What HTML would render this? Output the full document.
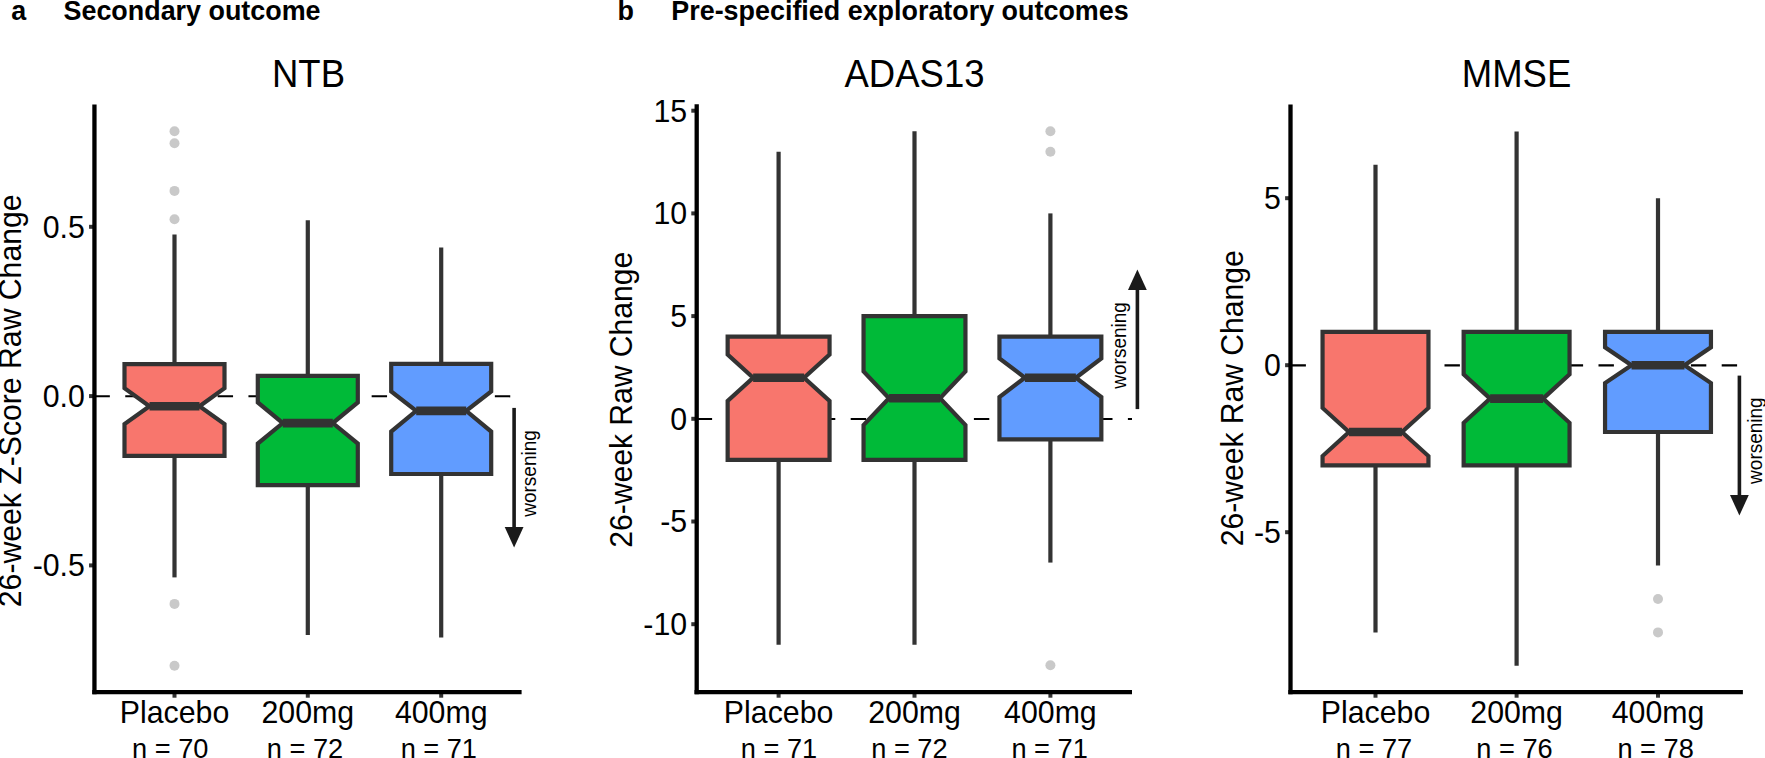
<!DOCTYPE html>
<html lang="en"><head><meta charset="utf-8"><title>Cognitive outcomes boxplots</title>
<style>html,body{margin:0;padding:0;background:#fff}body{width:1765px;height:758px;overflow:hidden}svg{display:block}</style></head>
<body>
<svg width="1765" height="758" viewBox="0 0 1765 758" font-family="'Liberation Sans', sans-serif" fill="#000">
<rect width="1765" height="758" fill="#fff"/>
<line x1="94.45" y1="396.3" x2="521.6" y2="396.3" stroke="#000" stroke-width="2.1" stroke-dasharray="15.4 15.4"/>
<line x1="174.5" y1="234.6" x2="174.5" y2="364.2" stroke="#333333" stroke-width="4.2"/>
<line x1="174.5" y1="455.8" x2="174.5" y2="577.4" stroke="#333333" stroke-width="4.2"/>
<path d="M124.5,455.8 L124.5,424 L149.5,406.2 L124.5,388.2 L124.5,364.2 L224.5,364.2 L224.5,388.2 L199.5,406.2 L224.5,424 L224.5,455.8Z" fill="#F8766D" stroke="#333333" stroke-width="4.2" stroke-linejoin="miter"/>
<line x1="149.5" y1="406.2" x2="199.5" y2="406.2" stroke="#333333" stroke-width="8.6"/>
<circle cx="174.5" cy="131.2" r="5" fill="#c9c9c9"/>
<circle cx="174.5" cy="143.2" r="5" fill="#c9c9c9"/>
<circle cx="174.5" cy="190.9" r="5" fill="#c9c9c9"/>
<circle cx="174.5" cy="219.2" r="5" fill="#c9c9c9"/>
<circle cx="174.5" cy="603.9" r="5" fill="#c9c9c9"/>
<circle cx="174.5" cy="665.7" r="5" fill="#c9c9c9"/>
<line x1="307.8" y1="220.3" x2="307.8" y2="375.8" stroke="#333333" stroke-width="4.2"/>
<line x1="307.8" y1="485.1" x2="307.8" y2="634.9" stroke="#333333" stroke-width="4.2"/>
<path d="M257.8,485.1 L257.8,443.6 L282.8,423.1 L257.8,402.4 L257.8,375.8 L357.8,375.8 L357.8,402.4 L332.8,423.1 L357.8,443.6 L357.8,485.1Z" fill="#00BA38" stroke="#333333" stroke-width="4.2" stroke-linejoin="miter"/>
<line x1="282.8" y1="423.1" x2="332.8" y2="423.1" stroke="#333333" stroke-width="8.6"/>
<line x1="441.2" y1="247.5" x2="441.2" y2="363.9" stroke="#333333" stroke-width="4.2"/>
<line x1="441.2" y1="474" x2="441.2" y2="637.6" stroke="#333333" stroke-width="4.2"/>
<path d="M391.2,474 L391.2,431.6 L416.2,410.9 L391.2,391.4 L391.2,363.9 L491.2,363.9 L491.2,391.4 L466.2,410.9 L491.2,431.6 L491.2,474Z" fill="#619CFF" stroke="#333333" stroke-width="4.2" stroke-linejoin="miter"/>
<line x1="416.2" y1="410.9" x2="466.2" y2="410.9" stroke="#333333" stroke-width="8.6"/>
<line x1="89.05" y1="226.8" x2="94.45" y2="226.8" stroke="#333333" stroke-width="4"/>
<text transform="translate(84.85 237.7) scale(1 1.04)" text-anchor="end" font-size="30.3">0.5</text>
<line x1="89.05" y1="396.1" x2="94.45" y2="396.1" stroke="#333333" stroke-width="4"/>
<text transform="translate(84.85 407) scale(1 1.04)" text-anchor="end" font-size="30.3">0.0</text>
<line x1="89.05" y1="565.4" x2="94.45" y2="565.4" stroke="#333333" stroke-width="4"/>
<text transform="translate(84.85 576.3) scale(1 1.04)" text-anchor="end" font-size="30.3">-0.5</text>
<line x1="174.5" y1="692.1" x2="174.5" y2="697.7" stroke="#333333" stroke-width="4"/>
<line x1="307.8" y1="692.1" x2="307.8" y2="697.7" stroke="#333333" stroke-width="4"/>
<line x1="441.2" y1="692.1" x2="441.2" y2="697.7" stroke="#333333" stroke-width="4"/>
<line x1="94.45" y1="104.4" x2="94.45" y2="694.25" stroke="#000" stroke-width="4.3"/>
<line x1="92.3" y1="692.1" x2="521.6" y2="692.1" stroke="#000" stroke-width="4.3"/>
<text transform="translate(174.5 722.7) scale(1 1.04)" text-anchor="middle" font-size="30.3">Placebo</text>
<text transform="translate(170.2 757.9) scale(1 1.04)" text-anchor="middle" font-size="27.2">n = 70</text>
<text transform="translate(307.8 722.7) scale(1 1.04)" text-anchor="middle" font-size="30.3">200mg</text>
<text transform="translate(305 757.9) scale(1 1.04)" text-anchor="middle" font-size="27.2">n = 72</text>
<text transform="translate(441.2 722.7) scale(1 1.04)" text-anchor="middle" font-size="30.3">400mg</text>
<text transform="translate(438.8 757.9) scale(1 1.04)" text-anchor="middle" font-size="27.2">n = 71</text>
<text transform="translate(308.5 86.9) scale(1 1.04)" text-anchor="middle" font-size="36.5">NTB</text>
<text transform="translate(20.9 400.8) rotate(-90) scale(1 1.04)" text-anchor="middle" font-size="30.2">26-week Z-Score Raw Change</text>
<line x1="514.1" y1="407.9" x2="514.1" y2="529" stroke="#1a1a1a" stroke-width="3.6"/>
<path d="M504.7,527 L523.5,527 L514.1,547.6Z" fill="#1a1a1a"/>
<text transform="translate(535.6 473.5) rotate(-90) scale(1 1.04)" text-anchor="middle" font-size="19">worsening</text>
<line x1="696.7" y1="419" x2="1132" y2="419" stroke="#000" stroke-width="2.1" stroke-dasharray="15.4 15.4"/>
<line x1="778.6" y1="151.78" x2="778.6" y2="336.64" stroke="#333333" stroke-width="4.2"/>
<line x1="778.6" y1="459.88" x2="778.6" y2="644.74" stroke="#333333" stroke-width="4.2"/>
<path d="M727.65,459.88 L727.65,400.83 L753.12,377.72 L727.65,354.61 L727.65,336.64 L829.55,336.64 L829.55,354.61 L804.08,377.72 L829.55,400.83 L829.55,459.88Z" fill="#F8766D" stroke="#333333" stroke-width="4.2" stroke-linejoin="miter"/>
<line x1="753.12" y1="377.72" x2="804.08" y2="377.72" stroke="#333333" stroke-width="8.6"/>
<line x1="914.5" y1="131.24" x2="914.5" y2="316.1" stroke="#333333" stroke-width="4.2"/>
<line x1="914.5" y1="459.88" x2="914.5" y2="644.74" stroke="#333333" stroke-width="4.2"/>
<path d="M863.55,459.88 L863.55,425.03 L889.02,398.26 L863.55,371.49 L863.55,316.1 L965.45,316.1 L965.45,371.49 L939.98,398.26 L965.45,425.03 L965.45,459.88Z" fill="#00BA38" stroke="#333333" stroke-width="4.2" stroke-linejoin="miter"/>
<line x1="889.02" y1="398.26" x2="939.98" y2="398.26" stroke="#333333" stroke-width="8.6"/>
<line x1="1050.4" y1="213.4" x2="1050.4" y2="336.64" stroke="#333333" stroke-width="4.2"/>
<line x1="1050.4" y1="439.34" x2="1050.4" y2="562.58" stroke="#333333" stroke-width="4.2"/>
<path d="M999.45,439.34 L999.45,396.98 L1024.93,377.72 L999.45,358.46 L999.45,336.64 L1101.35,336.64 L1101.35,358.46 L1075.88,377.72 L1101.35,396.98 L1101.35,439.34Z" fill="#619CFF" stroke="#333333" stroke-width="4.2" stroke-linejoin="miter"/>
<line x1="1024.93" y1="377.72" x2="1075.88" y2="377.72" stroke="#333333" stroke-width="8.6"/>
<circle cx="1050.4" cy="131.24" r="5" fill="#c9c9c9"/>
<circle cx="1050.4" cy="151.78" r="5" fill="#c9c9c9"/>
<circle cx="1050.4" cy="665.28" r="5" fill="#c9c9c9"/>
<line x1="691.3" y1="110.7" x2="696.7" y2="110.7" stroke="#333333" stroke-width="4"/>
<text transform="translate(687.1 121.6) scale(1 1.04)" text-anchor="end" font-size="30.3">15</text>
<line x1="691.3" y1="213.4" x2="696.7" y2="213.4" stroke="#333333" stroke-width="4"/>
<text transform="translate(687.1 224.3) scale(1 1.04)" text-anchor="end" font-size="30.3">10</text>
<line x1="691.3" y1="316.1" x2="696.7" y2="316.1" stroke="#333333" stroke-width="4"/>
<text transform="translate(687.1 327) scale(1 1.04)" text-anchor="end" font-size="30.3">5</text>
<line x1="691.3" y1="418.8" x2="696.7" y2="418.8" stroke="#333333" stroke-width="4"/>
<text transform="translate(687.1 429.7) scale(1 1.04)" text-anchor="end" font-size="30.3">0</text>
<line x1="691.3" y1="521.5" x2="696.7" y2="521.5" stroke="#333333" stroke-width="4"/>
<text transform="translate(687.1 532.4) scale(1 1.04)" text-anchor="end" font-size="30.3">-5</text>
<line x1="691.3" y1="624.2" x2="696.7" y2="624.2" stroke="#333333" stroke-width="4"/>
<text transform="translate(687.1 635.1) scale(1 1.04)" text-anchor="end" font-size="30.3">-10</text>
<line x1="778.6" y1="692.1" x2="778.6" y2="697.7" stroke="#333333" stroke-width="4"/>
<line x1="914.5" y1="692.1" x2="914.5" y2="697.7" stroke="#333333" stroke-width="4"/>
<line x1="1050.4" y1="692.1" x2="1050.4" y2="697.7" stroke="#333333" stroke-width="4"/>
<line x1="696.7" y1="104.3" x2="696.7" y2="694.25" stroke="#000" stroke-width="4.3"/>
<line x1="694.55" y1="692.1" x2="1132" y2="692.1" stroke="#000" stroke-width="4.3"/>
<text transform="translate(778.6 722.7) scale(1 1.04)" text-anchor="middle" font-size="30.3">Placebo</text>
<text transform="translate(779 757.9) scale(1 1.04)" text-anchor="middle" font-size="27.2">n = 71</text>
<text transform="translate(914.5 722.7) scale(1 1.04)" text-anchor="middle" font-size="30.3">200mg</text>
<text transform="translate(909.4 757.9) scale(1 1.04)" text-anchor="middle" font-size="27.2">n = 72</text>
<text transform="translate(1050.4 722.7) scale(1 1.04)" text-anchor="middle" font-size="30.3">400mg</text>
<text transform="translate(1049.6 757.9) scale(1 1.04)" text-anchor="middle" font-size="27.2">n = 71</text>
<text transform="translate(914.5 86.9) scale(1 1.04)" text-anchor="middle" font-size="36.5">ADAS13</text>
<text transform="translate(632.3 399.8) rotate(-90) scale(1 1.04)" text-anchor="middle" font-size="30.1">26-week Raw Change</text>
<line x1="1137.4" y1="409.1" x2="1137.4" y2="288.1" stroke="#1a1a1a" stroke-width="3.6"/>
<path d="M1128,290.1 L1146.8,290.1 L1137.4,269.5Z" fill="#1a1a1a"/>
<text transform="translate(1126.2 345.4) rotate(-90) scale(1 1.04)" text-anchor="middle" font-size="19">worsening</text>
<line x1="1290.5" y1="365.4" x2="1742.9" y2="365.4" stroke="#000" stroke-width="2.1" stroke-dasharray="15.4 15.4"/>
<line x1="1375.5" y1="164.8" x2="1375.5" y2="331.8" stroke="#333333" stroke-width="4.2"/>
<line x1="1375.5" y1="465.4" x2="1375.5" y2="632.4" stroke="#333333" stroke-width="4.2"/>
<path d="M1322.55,465.4 L1322.55,456.06 L1349.03,432 L1322.55,407.94 L1322.55,331.8 L1428.45,331.8 L1428.45,407.94 L1401.97,432 L1428.45,456.06 L1428.45,465.4Z" fill="#F8766D" stroke="#333333" stroke-width="4.2" stroke-linejoin="miter"/>
<line x1="1349.03" y1="432" x2="1401.97" y2="432" stroke="#333333" stroke-width="8.6"/>
<line x1="1516.6" y1="131.4" x2="1516.6" y2="331.8" stroke="#333333" stroke-width="4.2"/>
<line x1="1516.6" y1="465.4" x2="1516.6" y2="665.8" stroke="#333333" stroke-width="4.2"/>
<path d="M1463.65,465.4 L1463.65,422.81 L1490.12,398.6 L1463.65,374.39 L1463.65,331.8 L1569.55,331.8 L1569.55,374.39 L1543.07,398.6 L1569.55,422.81 L1569.55,465.4Z" fill="#00BA38" stroke="#333333" stroke-width="4.2" stroke-linejoin="miter"/>
<line x1="1490.12" y1="398.6" x2="1543.07" y2="398.6" stroke="#333333" stroke-width="8.6"/>
<line x1="1658" y1="198.2" x2="1658" y2="331.8" stroke="#333333" stroke-width="4.2"/>
<line x1="1658" y1="432" x2="1658" y2="565.6" stroke="#333333" stroke-width="4.2"/>
<path d="M1605.05,432 L1605.05,383.13 L1631.53,365.2 L1605.05,347.27 L1605.05,331.8 L1710.95,331.8 L1710.95,347.27 L1684.47,365.2 L1710.95,383.13 L1710.95,432Z" fill="#619CFF" stroke="#333333" stroke-width="4.2" stroke-linejoin="miter"/>
<line x1="1631.53" y1="365.2" x2="1684.47" y2="365.2" stroke="#333333" stroke-width="8.6"/>
<circle cx="1658" cy="599" r="5" fill="#c9c9c9"/>
<circle cx="1658" cy="632.4" r="5" fill="#c9c9c9"/>
<line x1="1285.1" y1="198.2" x2="1290.5" y2="198.2" stroke="#333333" stroke-width="4"/>
<text transform="translate(1280.9 209.1) scale(1 1.04)" text-anchor="end" font-size="30.3">5</text>
<line x1="1285.1" y1="365.2" x2="1290.5" y2="365.2" stroke="#333333" stroke-width="4"/>
<text transform="translate(1280.9 376.1) scale(1 1.04)" text-anchor="end" font-size="30.3">0</text>
<line x1="1285.1" y1="532.2" x2="1290.5" y2="532.2" stroke="#333333" stroke-width="4"/>
<text transform="translate(1280.9 543.1) scale(1 1.04)" text-anchor="end" font-size="30.3">-5</text>
<line x1="1375.5" y1="692.1" x2="1375.5" y2="697.7" stroke="#333333" stroke-width="4"/>
<line x1="1516.6" y1="692.1" x2="1516.6" y2="697.7" stroke="#333333" stroke-width="4"/>
<line x1="1658" y1="692.1" x2="1658" y2="697.7" stroke="#333333" stroke-width="4"/>
<line x1="1290.5" y1="104.5" x2="1290.5" y2="694.25" stroke="#000" stroke-width="4.3"/>
<line x1="1288.35" y1="692.1" x2="1742.9" y2="692.1" stroke="#000" stroke-width="4.3"/>
<text transform="translate(1375.5 722.7) scale(1 1.04)" text-anchor="middle" font-size="30.3">Placebo</text>
<text transform="translate(1374 757.9) scale(1 1.04)" text-anchor="middle" font-size="27.2">n = 77</text>
<text transform="translate(1516.6 722.7) scale(1 1.04)" text-anchor="middle" font-size="30.3">200mg</text>
<text transform="translate(1514.5 757.9) scale(1 1.04)" text-anchor="middle" font-size="27.2">n = 76</text>
<text transform="translate(1658 722.7) scale(1 1.04)" text-anchor="middle" font-size="30.3">400mg</text>
<text transform="translate(1655.6 757.9) scale(1 1.04)" text-anchor="middle" font-size="27.2">n = 78</text>
<text transform="translate(1516.5 86.9) scale(1 1.04)" text-anchor="middle" font-size="36.5">MMSE</text>
<text transform="translate(1243 398.3) rotate(-90) scale(1 1.04)" text-anchor="middle" font-size="30.1">26-week Raw Change</text>
<line x1="1739.4" y1="375.6" x2="1739.4" y2="496.9" stroke="#1a1a1a" stroke-width="3.6"/>
<path d="M1730,494.9 L1748.8,494.9 L1739.4,515.5Z" fill="#1a1a1a"/>
<text transform="translate(1761.5 440.6) rotate(-90) scale(1 1.04)" text-anchor="middle" font-size="19">worsening</text>
<text transform="translate(11.3 20) scale(1 1.04)" font-size="26.9" font-weight="bold">a</text>
<text transform="translate(63.5 20) scale(1 1.04)" font-size="26.9" font-weight="bold">Secondary outcome</text>
<text transform="translate(617.6 19.8) scale(1 1.04)" font-size="26.9" font-weight="bold">b</text>
<text transform="translate(671.3 19.8) scale(1 1.04)" font-size="26.9" font-weight="bold">Pre-specified exploratory outcomes</text>
</svg>
</body></html>
